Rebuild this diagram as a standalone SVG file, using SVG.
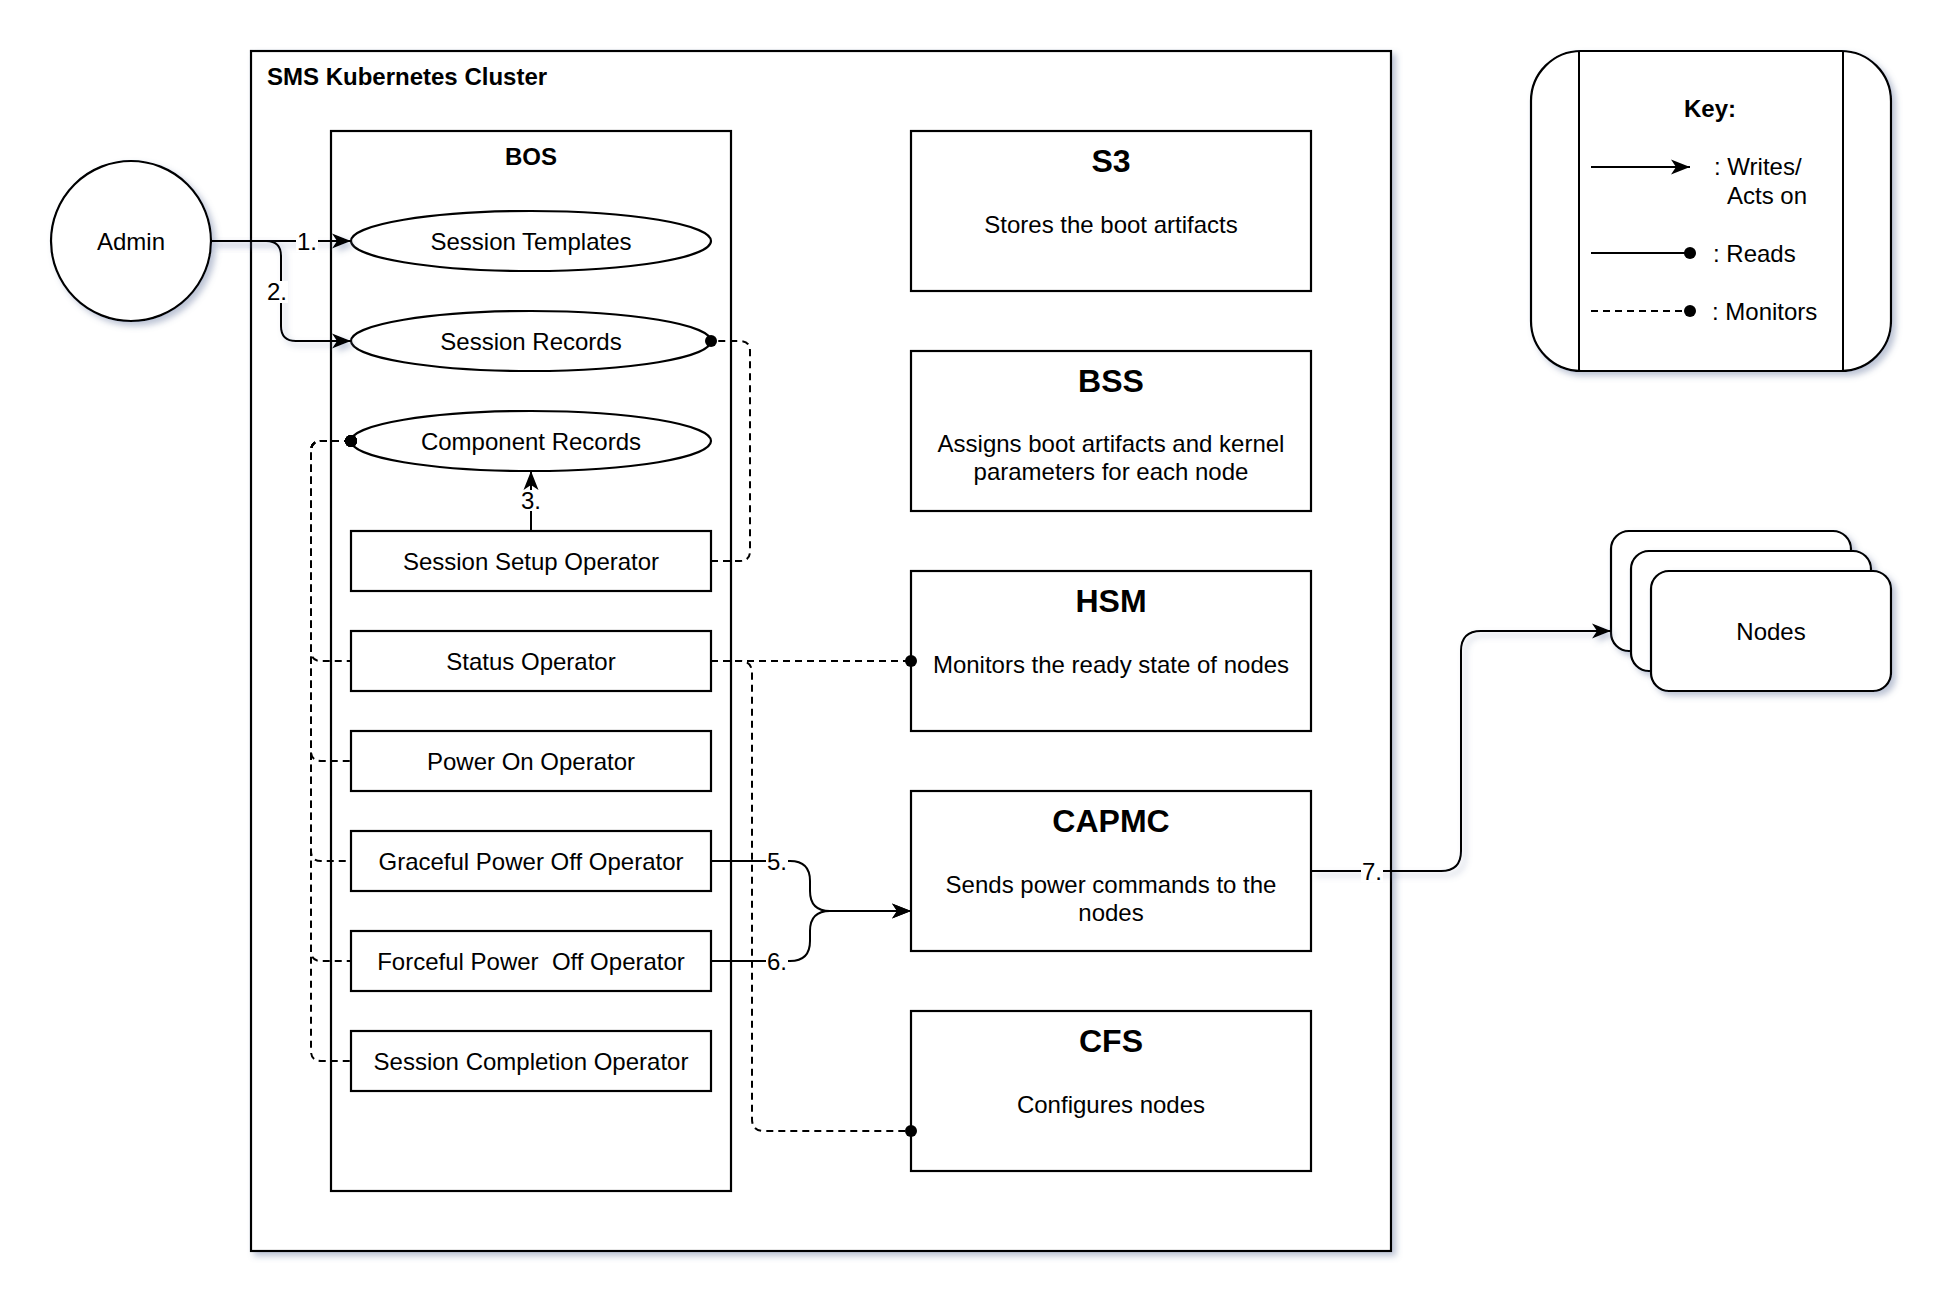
<svg xmlns="http://www.w3.org/2000/svg" width="1954" height="1314" viewBox="0 0 1954 1314">
<style>
.t{font-family:"Liberation Sans",Arial,Helvetica,sans-serif;font-size:24px;fill:#000;text-anchor:middle;white-space:pre}
.l{text-anchor:start}
.b{font-weight:bold}
.h{font-size:32px;font-weight:bold}
.box{fill:#fff;stroke:#000;stroke-width:2.2}
.e{fill:none;stroke:#000;stroke-width:2}
.d{stroke-dasharray:7 5}
.bg{fill:#fff}
</style>
<defs>
<filter id="sh" filterUnits="userSpaceOnUse" x="0" y="0" width="1954" height="1314">
<feDropShadow dx="4" dy="4" stdDeviation="3" flood-color="#6a7aa0" flood-opacity="0.45"/>
</filter>
<marker id="arr" markerUnits="userSpaceOnUse" viewBox="-20 -9 22 18" markerWidth="22" markerHeight="18" refX="0" refY="0" orient="auto">
<path d="M0,0 L-19,-7.5 L-14,0 L-19,7.5 Z" fill="#000"/>
</marker>
<marker id="dot" markerUnits="userSpaceOnUse" viewBox="-7 -7 14 14" markerWidth="14" markerHeight="14" refX="0" refY="0" orient="auto">
<circle cx="0" cy="0" r="6" fill="#000"/>
</marker>
</defs>
<rect width="1954" height="1314" fill="#fff"/>

<g id="cluster">
<rect class="box" x="251" y="51" width="1140" height="1200" filter="url(#sh)"/>
<text class="t l b" x="267" y="85">SMS Kubernetes Cluster</text>
</g>

<g id="bos">
<rect class="box" x="331" y="131" width="400" height="1060"/>
<text class="t b" x="531" y="165">BOS</text>
</g>

<g id="admin">
<circle class="box" cx="131" cy="241" r="80" filter="url(#sh)"/>
<text class="t" x="131" y="250">Admin</text>
</g>

<g id="session-templates">
<ellipse class="box" cx="531" cy="241" rx="180" ry="30"/>
<text class="t" x="531" y="250">Session Templates</text>
</g>
<g id="session-records">
<ellipse class="box" cx="531" cy="341" rx="180" ry="30"/>
<text class="t" x="531" y="350">Session Records</text>
</g>
<g id="component-records">
<ellipse class="box" cx="531" cy="441" rx="180" ry="30"/>
<text class="t" x="531" y="450">Component Records</text>
</g>

<g id="session-setup-operator">
<rect class="box" x="351" y="531" width="360" height="60"/>
<text class="t" x="531" y="570">Session Setup Operator</text>
</g>
<g id="status-operator">
<rect class="box" x="351" y="631" width="360" height="60"/>
<text class="t" x="531" y="670">Status Operator</text>
</g>
<g id="power-on-operator">
<rect class="box" x="351" y="731" width="360" height="60"/>
<text class="t" x="531" y="770">Power On Operator</text>
</g>
<g id="graceful-power-off-operator">
<rect class="box" x="351" y="831" width="360" height="60"/>
<text class="t" x="531" y="870">Graceful Power Off Operator</text>
</g>
<g id="forceful-power-off-operator">
<rect class="box" x="351" y="931" width="360" height="60"/>
<text class="t" x="531" y="970">Forceful Power  Off Operator</text>
</g>
<g id="session-completion-operator">
<rect class="box" x="351" y="1031" width="360" height="60"/>
<text class="t" x="531" y="1070">Session Completion Operator</text>
</g>

<g id="s3">
<rect class="box" x="911" y="131" width="400" height="160"/>
<text class="t h" x="1111" y="172">S3</text>
<text class="t" x="1111" y="233">Stores the boot artifacts</text>
</g>
<g id="bss">
<rect class="box" x="911" y="351" width="400" height="160"/>
<text class="t h" x="1111" y="392">BSS</text>
<text class="t" x="1111" y="452">Assigns boot artifacts and kernel</text>
<text class="t" x="1111" y="480">parameters for each node</text>
</g>
<g id="hsm">
<rect class="box" x="911" y="571" width="400" height="160"/>
<text class="t h" x="1111" y="612">HSM</text>
<text class="t" x="1111" y="673">Monitors the ready state of nodes</text>
</g>
<g id="capmc">
<rect class="box" x="911" y="791" width="400" height="160"/>
<text class="t h" x="1111" y="832">CAPMC</text>
<text class="t" x="1111" y="893">Sends power commands to the</text>
<text class="t" x="1111" y="921">nodes</text>
</g>
<g id="cfs">
<rect class="box" x="911" y="1011" width="400" height="160"/>
<text class="t h" x="1111" y="1052">CFS</text>
<text class="t" x="1111" y="1113">Configures nodes</text>
</g>

<g id="nodes">
<rect class="box" x="1611" y="531" width="240" height="120" rx="18" filter="url(#sh)"/>
<rect class="box" x="1631" y="551" width="240" height="120" rx="18" filter="url(#sh)"/>
<rect class="box" x="1651" y="571" width="240" height="120" rx="18" filter="url(#sh)"/>
<text class="t" x="1771" y="640">Nodes</text>
</g>

<g id="key">
<rect class="box" x="1531" y="51" width="360" height="320" rx="50" filter="url(#sh)"/>
<line class="e" x1="1579" y1="51" x2="1579" y2="371"/>
<line class="e" x1="1843" y1="51" x2="1843" y2="371"/>
<text class="t b" x="1710" y="117">Key:</text>
<line class="e" x1="1591" y1="167" x2="1690" y2="167" marker-end="url(#arr)"/>
<text class="t l" x="1714" y="175">: Writes/</text>
<text class="t l" x="1727" y="204">Acts on</text>
<line class="e" x1="1591" y1="253" x2="1690" y2="253" marker-end="url(#dot)"/>
<text class="t l" x="1713" y="262">: Reads</text>
<line class="e d" x1="1591" y1="311" x2="1690" y2="311" marker-end="url(#dot)"/>
<text class="t l" x="1712" y="320">: Monitors</text>
</g>

<g id="connectors">
<path class="e" d="M211,241 H351" marker-end="url(#arr)" filter="url(#sh)"/>
<path class="e" d="M211,241 H266 Q281,241 281,256 V326 Q281,341 296,341 H351" marker-end="url(#arr)" filter="url(#sh)"/>
<path class="e" d="M531,531 V471" marker-end="url(#arr)"/>
<path class="e d" d="M711,561 H740 Q750,561 750,551 V351 Q750,341 740,341 H711" marker-end="url(#dot)"/>
<path class="e d" d="M351,441 H321 Q311,441 311,451 V651 Q311,661 321,661 H351" marker-start="url(#dot)"/>
<path class="e d" d="M351,441 H321 Q311,441 311,451 V751 Q311,761 321,761 H351" marker-start="url(#dot)"/>
<path class="e d" d="M351,441 H321 Q311,441 311,451 V851 Q311,861 321,861 H351" marker-start="url(#dot)"/>
<path class="e d" d="M351,441 H321 Q311,441 311,451 V951 Q311,961 321,961 H351" marker-start="url(#dot)"/>
<path class="e d" d="M351,441 H321 Q311,441 311,451 V1051 Q311,1061 321,1061 H351" marker-start="url(#dot)"/>
<path class="e d" d="M711,661 H911" marker-end="url(#dot)"/>
<path class="e d" d="M711,661 H740 Q752,661 752,673 V1119 Q752,1131 764,1131 H911" marker-end="url(#dot)"/>
<path class="e" d="M711,861 H790 Q810,861 810,881 V891 Q810,911 830,911 H911" marker-end="url(#arr)"/>
<path class="e" d="M711,961 H790 Q810,961 810,941 V931 Q810,911 830,911 H911" marker-end="url(#arr)"/>
<path class="e" d="M1311,871 H1441 Q1461,871 1461,851 V651 Q1461,631 1481,631 H1611" marker-end="url(#arr)" filter="url(#sh)"/>
<rect class="bg" x="296" y="230" width="22" height="22"/>
<text class="t" x="307" y="250">1.</text>
<rect class="bg" x="266" y="281" width="22" height="22"/>
<text class="t" x="277" y="300">2.</text>
<rect class="bg" x="520" y="490" width="22" height="21"/>
<text class="t" x="531" y="509">3.</text>
<rect class="bg" x="766" y="850" width="22" height="22"/>
<text class="t" x="777" y="870">5.</text>
<rect class="bg" x="766" y="950" width="22" height="22"/>
<text class="t" x="777" y="970">6.</text>
<rect class="bg" x="1361" y="860" width="22" height="22"/>
<text class="t" x="1372" y="880">7.</text>
</g>
</svg>
